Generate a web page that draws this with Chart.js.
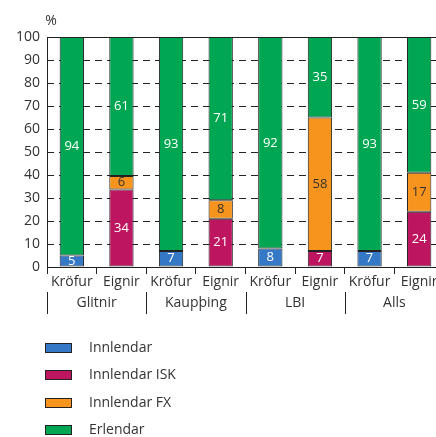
<!DOCTYPE html>
<html>
<head>
<meta charset="utf-8">
<script src="https://cdn.jsdelivr.net/npm/chart.js@4"></script>
<style>
  html, body { margin: 0; padding: 0; background: #fff; overflow: hidden; }
  #wrap { position: relative; width: 450px; height: 437px; }
</style>
</head>
<body>
<div id="wrap"><canvas id="c"></canvas></div>
<script>
// ---- data ----
const categories = ['Kröfur', 'Eignir', 'Kröfur', 'Eignir', 'Kröfur', 'Eignir', 'Kröfur', 'Eignir'];
const groups = ['Glitnir', 'Kaupþing', 'LBI', 'Alls'];
const innlendar    = [5, null, 7, null, 8, null, 7, null];
const innlendarISK = [null, 34, null, 21, null, 7, null, 24];
const innlendarFX  = [null, 6, null, 8, null, 58, null, 17];
const erlendar     = [94, 61, 93, 71, 92, 35, 93, 59];
const yTicks = [0, 10, 20, 30, 40, 50, 60, 70, 80, 90, 100];
const yUnit = '%';

const seriesNames = ['Innlendar', 'Innlendar ISK', 'Innlendar FX', 'Erlendar'];
const seriesColors = ['#3478C6', '#BE1560', '#F7941D', '#00A651'];
const labelColors = ['#ffffff', '#ffffff', '#333333', '#ffffff'];
const raw = [innlendar, innlendarISK, innlendarFX, erlendar];

// each bar shown as shares of its own total (100%)
const totals = categories.map((_, i) => raw.reduce((s, a) => s + (a[i] || 0), 0));
const shares = raw.map(a => a.map((v, i) => v == null ? null : v * 100 / totals[i]));

const FONT = '"Open Sans", sans-serif';
const TXT = '#333333';
const LINE = '#222222';

Chart.defaults.font.family = FONT;
Chart.defaults.font.size = 14;
Chart.defaults.color = TXT;

const datasets = seriesNames.map((n, k) => ({
  label: n,
  data: shares[k],
  rawValues: raw[k],
  backgroundColor: seriesColors[k],
  borderColor: LINE,
  borderWidth: 1,
  borderSkipped: false,
  categoryPercentage: 1,
  barPercentage: 0.49,
  valueColor: labelColors[k]
}));

const gridPlugin = {
  id: 'dashGrid',
  beforeDatasetsDraw(chart) {
    const ctx = chart.ctx, a = chart.chartArea, y = chart.scales.y;
    ctx.save();
    ctx.strokeStyle = LINE;
    ctx.lineWidth = 1;
    yTicks.forEach(v => {
      const py = Math.round(y.getPixelForValue(v)) + 0.5;
      if (v === 0) return;
      ctx.setLineDash(v === 100 ? [] : [7, 5]);
      ctx.beginPath();
      ctx.moveTo(a.left, py);
      ctx.lineTo(a.right, py);
      ctx.stroke();
    });
    ctx.restore();
  }
};

const extrasPlugin = {
  id: 'extras',
  afterDatasetsDraw(chart) {
    const ctx = chart.ctx;
    ctx.save();
    ctx.font = '13px ' + FONT;
    ctx.textAlign = 'center';
    ctx.textBaseline = 'middle';
    chart.data.datasets.forEach((ds, k) => {
      const meta = chart.getDatasetMeta(k);
      meta.data.forEach((el, i) => {
        const v = ds.rawValues[i];
        if (v == null) return;
        ctx.fillStyle = ds.valueColor;
        ctx.fillText(String(v), el.x, (el.y + el.base) / 2);
      });
    });
    ctx.restore();
  },
  afterDraw(chart) {
    const ctx = chart.ctx, a = chart.chartArea;
    ctx.save();
    // unit label
    ctx.fillStyle = TXT;
    ctx.font = '14px ' + FONT;
    ctx.textAlign = 'center';
    ctx.textBaseline = 'middle';
    ctx.fillText(yUnit, 51, 21);
    // group row
    const per = categories.length / groups.length;
    const step = (a.right - a.left) / categories.length;
    ctx.strokeStyle = LINE;
    ctx.lineWidth = 1;
    for (let g = 0; g <= groups.length; g++) {
      const px = Math.round(a.left + g * per * step) + 0.5;
      ctx.beginPath();
      ctx.moveTo(px, a.bottom + 25);
      ctx.lineTo(px, a.bottom + 47);
      ctx.stroke();
    }
    groups.forEach((g, i) => {
      const cx = a.left + (i + 0.5) * per * step;
      ctx.fillText(g, cx, a.bottom + 36);
    });
    // legend
    ctx.textAlign = 'left';
    seriesNames.forEach((n, k) => {
      const cy = 348 + k * 27.3;
      ctx.fillStyle = seriesColors[k];
      ctx.fillRect(45, Math.round(cy - 5), 27, 10);
      ctx.strokeStyle = LINE;
      ctx.strokeRect(45.5, Math.round(cy - 5) + 0.5, 26, 9);
      ctx.fillStyle = TXT;
      ctx.fillText(n, 89, cy);
    });
    ctx.restore();
  }
};

new Chart(document.getElementById('c'), {
  type: 'bar',
  data: { labels: categories, datasets },
  options: {
    responsive: true,
    maintainAspectRatio: false,
    devicePixelRatio: 1,
    animation: false,
    events: [],
    layout: { padding: { left: 0, top: 37, right: 6, bottom: 140 } },
    plugins: { legend: { display: false }, tooltip: { enabled: false } },
    scales: {
      x: {
        stacked: true,
        offset: true,
        grid: { display: true, drawOnChartArea: false, drawTicks: true, tickLength: 7, color: LINE, offset: true },
        border: { display: true, color: LINE, width: 1 },
        ticks: { color: TXT, font: { family: FONT, size: 14 }, padding: 0, maxRotation: 0, autoSkip: false },
        afterFit(s) { s.height = 30; }
      },
      y: {
        stacked: true,
        min: 0, max: 100,
        afterBuildTicks(s) { s.ticks = yTicks.map(v => ({ value: v })); },
        grid: { display: true, drawOnChartArea: false, drawTicks: false },
        border: { display: true, color: LINE, width: 1 },
        ticks: { color: TXT, font: { family: FONT, size: 14 }, padding: 7 },
        afterFit(s) { s.width = 47; }
      }
    }
  },
  plugins: [gridPlugin, extrasPlugin]
});
</script>
</body>
</html>
